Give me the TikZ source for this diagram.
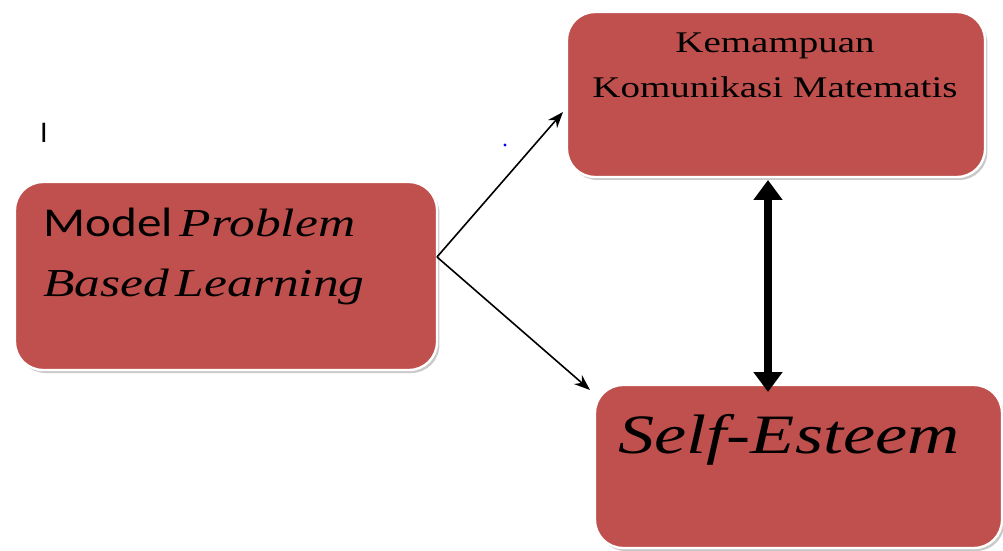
\documentclass[tikz,border=0pt]{standalone}
\usepackage{fontspec}
\setmainfont{Liberation Serif}
\newfontfamily\serifw[FakeStretch=1.3]{Liberation Serif}
\newfontfamily\carl[FakeStretch=1.2]{Carlito}
\newfontfamily\carlplain{Carlito}
\usetikzlibrary{arrows.meta,shadows}
\definecolor{boxred}{HTML}{C0504D}
\begin{document}
\begin{tikzpicture}[x=0.5pt,y=-0.5pt,
  boxst/.style={rectangle, rounded corners=14pt, fill=boxred, draw=white, line width=1.2pt,
    drop shadow={shadow xshift=1.2pt, shadow yshift=-1.5pt, fill=black!30, opacity=0.7}},
  txt/.style={inner sep=0pt, text=black},
  thin arrow/.style={-{Stealth[length=8pt,width=6pt]}, line width=0.8pt},
  thick arrow/.style={{Triangle[length=10pt,width=14pt]}-{Triangle[length=10pt,width=14pt]}, line width=4pt}]
\useasboundingbox (0,0) rectangle (1003,551);
% boxes
\node[boxst, minimum width=211pt, minimum height=94pt] (pbl) at (226,276) {};
\node[boxst, minimum width=209pt, minimum height=82.5pt] (kkm) at (776,94.5) {};
\node[boxst, minimum width=203.5pt, minimum height=81.5pt] (se) at (798.5,466.5) {};
% texts
\node[txt, anchor=base west] (t1) at (43,237) {\carl\fontsize{20.5}{24}\selectfont Model\,\serifw\fontsize{19.8}{24}\selectfont\itshape Problem};
\node[txt, anchor=base west] (t2) at (43,297) {\serifw\fontsize{19.8}{24}\selectfont\itshape Based\,Learning};
\node[txt, anchor=base] (t3) at (775,53) {\serifw\fontsize{15}{18}\selectfont Kemampuan};
\node[txt, anchor=base] (t4) at (775,98) {\serifw\fontsize{15}{18}\selectfont Komunikasi Matematis};
\node[txt, anchor=base west] (t5) at (618,453) {\serifw\fontsize{27.8}{34}\selectfont\itshape Self-Esteem};
% stray marks
\node[txt, anchor=base] (cur) at (44,143) {\carlplain\fontsize{15}{18}\selectfont I};
\fill[blue] (505,145) circle (0.8pt);
% connectors
\coordinate (fork) at (437,257);
\coordinate (kin) at (563,112);
\coordinate (sin) at (590,390);
\draw[thin arrow] (fork) -- (kin);
\draw[thin arrow] (fork) -- (sin);
\coordinate (ktop) at (768,180);
\coordinate (sbot) at (768,392);
\draw[thick arrow] (ktop) -- (sbot);
\end{tikzpicture}
\end{document}
